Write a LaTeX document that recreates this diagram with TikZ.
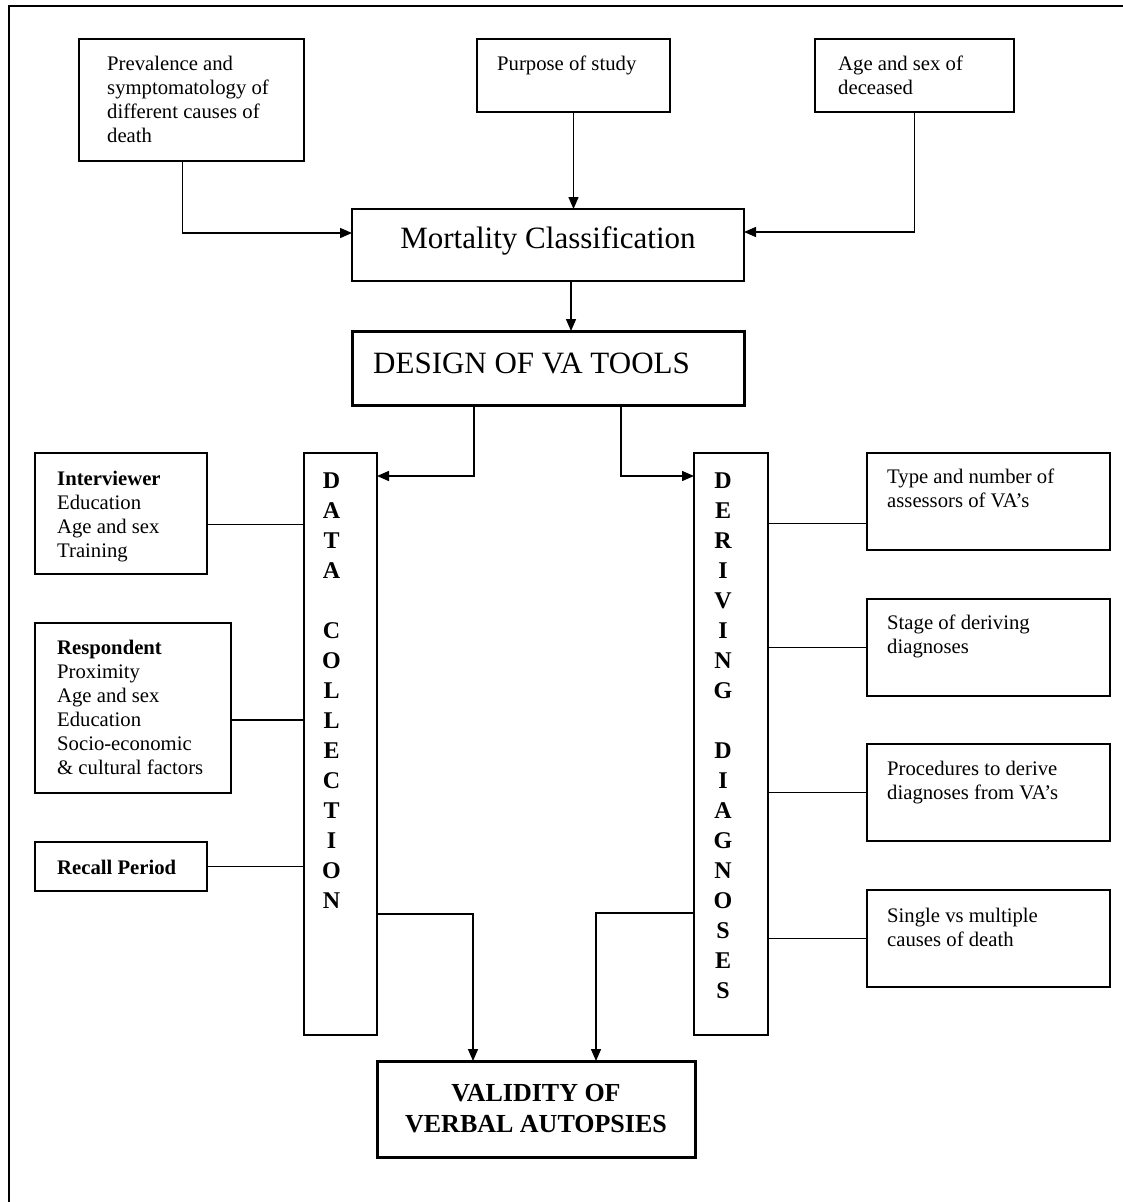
\documentclass[tikz,border=0pt]{standalone}
\usepackage{fontspec}
\setmainfont{Liberation Serif}
\usetikzlibrary{
    arrows.meta, % For arrow tips
    positioning  % For placing the texts inside the boxes
}

\begin{document}
\begin{tikzpicture}[
    x=1pt, y=-1pt, % work in page pixels, y going down
    >={Triangle[length=12pt,width=10pt]},
    box/.style={draw, line width=1.2pt, anchor=north west, inner sep=0pt, outer sep=0pt},
    heavybox/.style={box, line width=3pt},
    boxtext/.style={anchor=north west, inner sep=0pt, align=left, font=\fontsize{20.7}{24}\selectfont},
    bigtext/.style={inner sep=0pt, font=\fontsize{31}{36}\selectfont},
    letters/.style={anchor=north, inner sep=0pt, align=center, font=\fontsize{24}{30}\selectfont\bfseries},
    link/.style={line width=1.2pt},
    flow/.style={line width=1.4pt, ->}
]

    \useasboundingbox (0,0) rectangle (1123,1202);

    % Outer frame (only its top and left edges show)
    \draw[line width=1.4pt] (1123,6) -- (9,6) -- (9,1202);

    % Top row of factors
    \node[box, minimum width=225pt, minimum height=122pt] (prev) at (79,39) {};
    \node[boxtext, below right=17pt and 28pt of prev.north west] (prevtxt)
        {Prevalence and\\symptomatology of\\different causes of\\death};
    \node[box, minimum width=193pt, minimum height=73pt] (purp) at (477,39) {};
    \node[boxtext, below right=17pt and 20pt of purp.north west] (purptxt) {Purpose of study};
    \node[box, minimum width=199pt, minimum height=73pt] (agesex) at (815,39) {};
    \node[boxtext, below right=17pt and 23pt of agesex.north west] (agesextxt) {Age and sex of\\deceased};

    % Main column
    \node[box, minimum width=392pt, minimum height=72pt] (mort) at (352,209) {};
    \node[bigtext, yshift=4pt] (morttxt) at (mort.center) {Mortality Classification};
    \node[heavybox, minimum width=392pt, minimum height=74pt] (design) at (352,331) {};
    \node[bigtext, right=21pt of design.west, yshift=5pt] (designtxt) {DESIGN OF VA TOOLS};

    % The two vertical bars
    \node[box, minimum width=73pt, minimum height=582pt] (data) at (304,453) {};
    \node[letters, below=20pt of data.north, xshift=-9pt] (datatxt)
        {D\\A\\T\\A\\[30pt]C\\O\\L\\L\\E\\C\\T\\I\\O\\N};
    \node[box, minimum width=74pt, minimum height=582pt] (deriv) at (694,453) {};
    \node[letters, below=20pt of deriv.north, xshift=-8pt] (derivtxt)
        {D\\E\\R\\I\\V\\I\\N\\G\\[30pt]D\\I\\A\\G\\N\\O\\S\\E\\S};

    % Factors of data collection
    \node[box, minimum width=172pt, minimum height=121pt] (intv) at (35,453) {};
    \node[boxtext, below right=18pt and 22pt of intv.north west] (intvtxt)
        {\textbf{Interviewer}\\Education\\Age and sex\\Training};
    \node[box, minimum width=196pt, minimum height=170pt] (resp) at (35,623) {};
    \node[boxtext, below right=17pt and 22pt of resp.north west] (resptxt)
        {\textbf{Respondent}\\Proximity\\Age and sex\\Education\\Socio-economic\\\& cultural factors};
    \node[box, minimum width=172pt, minimum height=49pt] (recall) at (35,842) {};
    \node[boxtext, below right=18pt and 22pt of recall.north west] (recalltxt) {\textbf{Recall Period}};

    % Factors of deriving diagnoses
    \node[box, minimum width=243pt, minimum height=97pt] (type) at (867,453) {};
    \node[boxtext, below right=16pt and 20pt of type.north west] (typetxt) {Type and number of\\assessors of VA's};
    \node[box, minimum width=243pt, minimum height=97pt] (stage) at (867,599) {};
    \node[boxtext, below right=16pt and 20pt of stage.north west] (stagetxt) {Stage of deriving\\diagnoses};
    \node[box, minimum width=243pt, minimum height=97pt] (proc) at (867,744) {};
    \node[boxtext, below right=17pt and 20pt of proc.north west] (proctxt) {Procedures to derive\\diagnoses from VA's};
    \node[box, minimum width=243pt, minimum height=97pt] (single) at (867,890) {};
    \node[boxtext, below right=18pt and 20pt of single.north west] (singletxt) {Single vs multiple\\causes of death};

    % Outcome
    \node[heavybox, minimum width=318pt, minimum height=96pt, align=center,
          font=\fontsize{26}{31}\selectfont\bfseries] (valid) at (377,1061) {VALIDITY OF\\VERBAL AUTOPSIES};

    % Arrows into the classification and down the column
    \draw[flow] ([xshift=-9pt]prev.south) |- ([yshift=12pt]mort.west);
    \draw[flow] (purp.south) -- (purp.south |- mort.north);
    \draw[flow] (agesex.south) |- ([yshift=13pt]mort.east);
    \draw[flow] ([xshift=23pt]mort.south) -- ([xshift=23pt]design.north);
    \draw[flow] ([xshift=-74pt]design.south) |- ([yshift=-23pt]data.north east);
    \draw[flow] ([xshift=73pt]design.south) |- ([yshift=-23pt]deriv.north west);

    % Plain links to the factors
    \draw[link] ([yshift=-11pt]intv.east) -- ([yshift=-11pt]intv.east -| data.west);
    \draw[link] ([yshift=-12pt]resp.east) -- ([yshift=-12pt]resp.east -| data.west);
    \draw[link] (recall.east) -- (recall.east -| data.west);
    \draw[link] ([yshift=-22pt]type.west) -- ([yshift=-22pt]type.west -| deriv.east);
    \draw[link] (stage.west) -- (stage.west -| deriv.east);
    \draw[link] (proc.west) -- (proc.west -| deriv.east);
    \draw[link] (single.west) -- (single.west -| deriv.east);

    % Into the outcome
    \draw[flow] ([yshift=-170pt]data.east) -| ([xshift=-63pt]valid.north);
    \draw[flow] ([yshift=-169pt]deriv.west) -| ([xshift=60pt]valid.north);

\end{tikzpicture}
\end{document}
